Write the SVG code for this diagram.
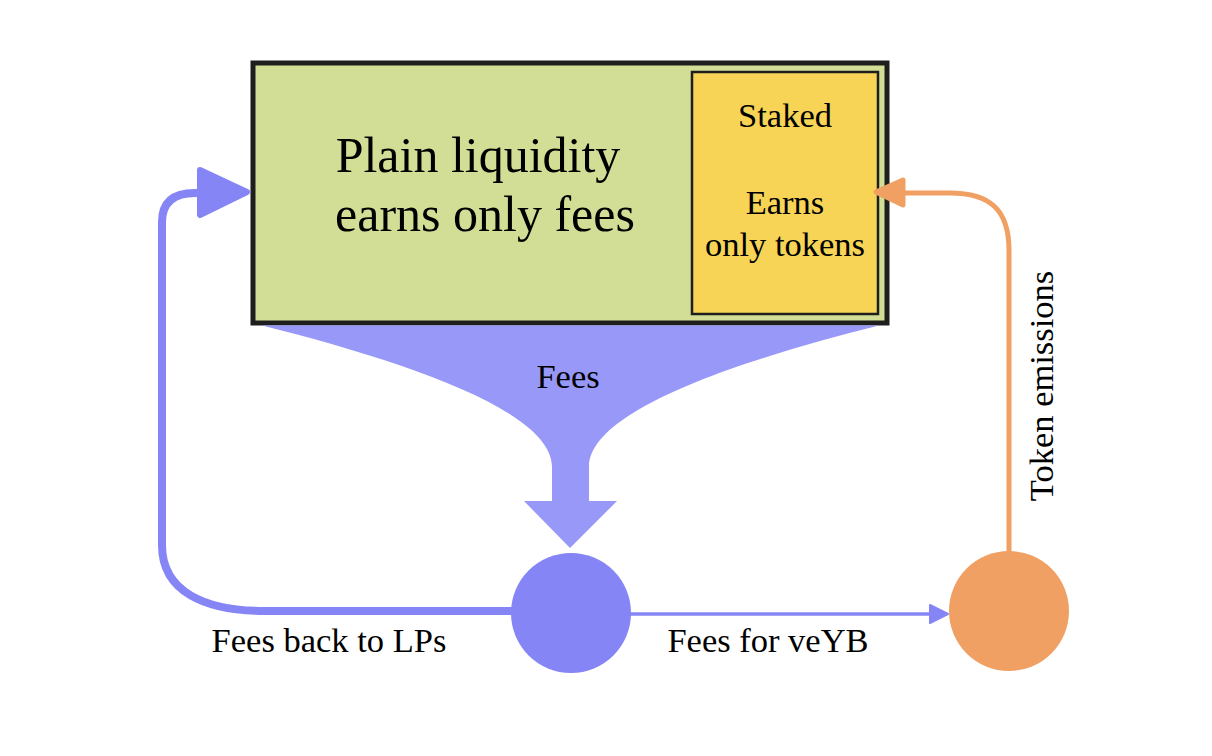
<svg xmlns="http://www.w3.org/2000/svg" width="1212" height="756" viewBox="0 0 1212 756">
<style>
text{font-family:"Liberation Serif","Times New Roman",serif;fill:#000;text-anchor:middle}
.lbl{font-size:34.5px}
.big{font-size:50px}
.blue{fill:#8585f5}
.orange{fill:#f0a062}
</style>
<rect width="1212" height="756" fill="#fff"/>
<g id="plain">
  <rect x="253" y="63" width="634" height="260" fill="#d2de95" stroke="#1e1e1e" stroke-width="5"/>
  <text class="big" x="478" y="172">Plain liquidity</text>
  <text class="big" x="485" y="231">earns only fees</text>
</g>
<g id="staked">
  <rect x="692" y="72" width="186" height="242" fill="#f7d455" stroke="#1e1e1e" stroke-width="2.5"/>
  <text class="lbl" x="785" y="127">Staked</text>
  <text class="lbl" x="785" y="214">Earns</text>
  <text class="lbl" x="785" y="256">only tokens</text>
</g>
<g id="hub">
  <circle class="blue" cx="571" cy="613" r="60"/>
</g>
<g id="veyb">
  <circle class="orange" cx="1009" cy="611" r="60"/>
</g>
<g id="connectors">
  <path id="funnel" d="M262,325.5 C400,360 552,410 552,467 L552,501 L524,501 L570,548 L617,501 L589,501 L589,467 C589,410 741,360 879,325.5 Z" fill="#9898f9"/>
  <path d="M512,611 L265,611 C205,611 162,592 162,545 L162,222 Q162,193 195,193 L202,193" fill="none" stroke="#8585f5" stroke-width="8"/>
  <polygon points="200,170 247,192 200,215" fill="#8585f5" stroke="#8585f5" stroke-width="6" stroke-linejoin="round"/>
  <line x1="630" y1="614" x2="934" y2="614" stroke="#8585f5" stroke-width="3.5"/>
  <polygon points="930,605 948,614 930,623" fill="#8585f5" stroke="#8585f5" stroke-width="2" stroke-linejoin="round"/>
  <path d="M1009,552 L1009,250 C1009,210 990,193 950,193 L903,193" fill="none" stroke="#f0a062" stroke-width="5"/>
  <polygon points="903,180 876,192 903,205" fill="#f0a062" stroke="#f0a062" stroke-width="5" stroke-linejoin="round"/>
  <text class="lbl" x="568" y="388">Fees</text>
  <text class="lbl" x="329" y="652">Fees back to LPs</text>
  <text class="lbl" x="768" y="652">Fees for veYB</text>
  <text class="lbl" transform="translate(1053,386) rotate(-90)" x="0" y="0">Token emissions</text>
</g>
</svg>
